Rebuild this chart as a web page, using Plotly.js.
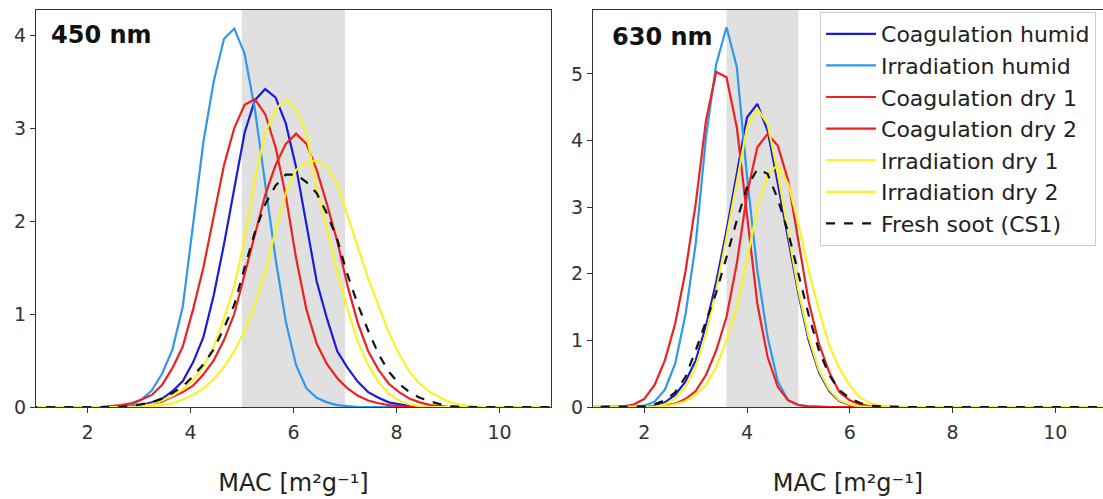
<!DOCTYPE html>
<html>
<head>
<meta charset="utf-8">
<script src="https://cdn.plot.ly/plotly-3.0.1.min.js"></script>
<style>
html,body{margin:0;padding:0;background:#fff;}
#chart{width:1103px;height:499px;}
</style>
</head>
<body>
<div id="chart"></div>
<script>
// ---- data ----
const seriesNames = ["Coagulation humid","Irradiation humid","Coagulation dry 1","Coagulation dry 2","Irradiation dry 1","Irradiation dry 2","Fresh soot (CS1)"];
const panelLabels = ["450 nm","630 nm"];
const axisTitle = "MAC [m\u00b2g\u207b\u00b9]";
const bandLeft = [5, 7];
const bandRight = [3.6, 5];

const x450 = [0.85,1.05,1.25,1.45,1.65,1.85,2.05,2.25,2.45,2.65,
  2.85,3.05,3.25,3.45,3.65,3.85,4.05,4.25,4.45,4.65,
  4.85,5.05,5.25,5.45,5.65,5.85,6.05,6.25,6.45,6.65,
  6.85,7.05,7.25,7.45,7.65,7.85,8.05,8.25,8.45,8.65,
  8.85,9.05,9.25,9.45,9.65,9.85,10.05,10.25,10.45,10.65,
  10.85,11.05];
const coagHumid450 = [0,0,0,0,0,0,0,0,0,0,
  0.01,0.02,0.05,0.09,0.17,0.28,0.48,0.75,1.2,1.75,
  2.35,2.95,3.3,3.42,3.33,3.05,2.58,1.95,1.35,0.95,
  0.6,0.42,0.27,0.16,0.1,0.05,0.03,0.01,0,0,
  0,0,0,0,0,0,0,0,0,0,
  0,0];
const irrHumid450 = [0,0,0,0,0,0,0,0,0,0.01,
  0.02,0.08,0.18,0.36,0.62,1.08,1.95,2.85,3.5,3.96,
  4.07,3.8,3.2,2.4,1.6,0.92,0.45,0.2,0.1,0.05,
  0.02,0.01,0,0,0,0,0,0,0,0,
  0,0,0,0,0,0,0,0,0,0,
  0,0];
const coagDry1_450 = [0,0,0,0,0,0,0,0,0.01,0.02,
  0.04,0.08,0.13,0.24,0.42,0.65,1.05,1.5,2.05,2.6,
  3.0,3.25,3.31,3.15,2.8,2.27,1.6,1.05,0.68,0.46,
  0.31,0.2,0.12,0.07,0.04,0.02,0.01,0,0,0,
  0,0,0,0,0,0,0,0,0,0,
  0,0];
const coagDry2_450 = [0,0,0,0,0,0,0,0,0,0,
  0,0.01,0.03,0.06,0.11,0.16,0.23,0.35,0.5,0.72,
  1.0,1.42,1.85,2.28,2.6,2.83,2.94,2.83,2.55,2.18,
  1.78,1.3,0.9,0.6,0.4,0.25,0.16,0.09,0.05,0.02,
  0.01,0,0,0,0,0,0,0,0,0,
  0,0];
const irrDry1_450 = [0,0,0,0,0,0,0,0,0,0,
  0,0.01,0.03,0.07,0.12,0.19,0.29,0.43,0.65,0.95,
  1.3,1.8,2.45,2.95,3.2,3.31,3.2,2.95,2.35,1.92,
  1.45,1.05,0.7,0.45,0.27,0.14,0.07,0.03,0.01,0,
  0,0,0,0,0,0,0,0,0,0,
  0,0];
const irrDry2_450 = [0,0,0,0,0,0,0,0,0,0,
  0,0,0.01,0.02,0.04,0.08,0.13,0.2,0.3,0.43,
  0.6,0.82,1.1,1.45,1.9,2.3,2.55,2.63,2.65,2.58,
  2.4,2.05,1.72,1.38,1.08,0.8,0.57,0.38,0.25,0.16,
  0.1,0.05,0.02,0.01,0,0,0,0,0,0,
  0,0];
const fresh450 = [0,0,0,0,0,0,0,0,0,0,
  0.01,0.03,0.05,0.09,0.15,0.22,0.33,0.46,0.62,0.85,
  1.1,1.5,1.88,2.18,2.38,2.5,2.5,2.42,2.3,2.08,
  1.8,1.42,1.1,0.82,0.57,0.38,0.25,0.16,0.1,0.06,
  0.03,0.01,0,0,0,0,0,0,0,0,
  0,0];

const x630 = [0.8,1.0,1.2,1.4,1.6,1.8,2.0,2.2,2.4,2.6,
  2.8,3.0,3.2,3.4,3.6,3.8,4.0,4.2,4.4,4.6,
  4.8,5.0,5.2,5.4,5.6,5.8,6.0,6.2,6.4,6.6,
  6.8,7.0,7.2,7.4,7.6,7.8,8.0,8.2,8.4,8.6,
  8.8,9.0,9.2,9.4,9.6,9.8,10.0,10.2,10.4,10.6,
  10.8,11.0];
const coagHumid630 = [0,0,0,0,0,0,0,0.02,0.07,0.18,
  0.38,0.7,1.22,1.88,2.65,3.5,4.35,4.55,4.15,3.35,
  2.5,1.7,1.0,0.52,0.24,0.09,0.03,0.01,0,0,
  0,0,0,0,0,0,0,0,0,0,
  0,0,0,0,0,0,0,0,0,0,
  0,0];
const irrHumid630 = [0,0,0,0,0,0,0.02,0.08,0.26,0.65,
  1.38,2.45,4.05,5.15,5.7,5.11,3.45,2.05,1.05,0.38,
  0.1,0.03,0.01,0,0,0,0,0,0,0,
  0,0,0,0,0,0,0,0,0,0,
  0,0,0,0,0,0,0,0,0,0,
  0,0];
const coagDry1_630 = [0,0,0,0,0.01,0.04,0.12,0.33,0.7,1.25,
  2.03,3.05,4.3,5.03,4.95,4.2,2.85,1.55,0.75,0.3,
  0.1,0.03,0.01,0,0,0,0,0,0,0,
  0,0,0,0,0,0,0,0,0,0,
  0,0,0,0,0,0,0,0,0,0,
  0,0];
const coagDry2_630 = [0,0,0,0,0,0,0,0,0.02,0.05,
  0.12,0.24,0.48,0.85,1.35,2.15,3.2,3.9,4.1,3.92,
  3.4,2.5,1.58,0.95,0.52,0.22,0.1,0.04,0.01,0,
  0,0,0,0,0,0,0,0,0,0,
  0,0,0,0,0,0,0,0,0,0,
  0,0];
const irrDry1_630 = [0,0,0,0,0,0,0,0,0.04,0.13,
  0.3,0.6,1.1,1.75,2.55,3.4,4.2,4.48,4.25,3.5,
  2.6,1.75,1.05,0.55,0.26,0.1,0.04,0.01,0,0,
  0,0,0,0,0,0,0,0,0,0,
  0,0,0,0,0,0,0,0,0,0,
  0,0];
const irrDry2_630 = [0,0,0,0,0,0,0,0,0.01,0.04,
  0.09,0.18,0.33,0.6,1.0,1.5,2.2,3.0,3.5,3.63,
  3.35,2.75,2.05,1.45,0.92,0.58,0.32,0.14,0.06,0.02,
  0.01,0,0,0,0,0,0,0,0,0,
  0,0,0,0,0,0,0,0,0,0,
  0,0];
const fresh630 = [0,0,0,0,0,0,0.01,0.04,0.1,0.22,
  0.45,0.85,1.3,1.72,2.25,2.8,3.3,3.57,3.5,3.12,
  2.62,2.0,1.38,0.85,0.48,0.25,0.13,0.06,0.02,0.01,
  0,0,0,0,0,0,0,0,0,0,
  0,0,0,0,0,0,0,0,0,0,
  0,0];

// ---- styles ----
const colors = ["#1c1cd8","#2f97ee","#ee2020","#ee2020","#f8f228","#f8f228","#111111"];
const dashes = ["solid","solid","solid","solid","solid","solid","dash"];

const y450 = [coagHumid450, irrHumid450, coagDry1_450, coagDry2_450, irrDry1_450, irrDry2_450, fresh450];
const y630 = [coagHumid630, irrHumid630, coagDry1_630, coagDry2_630, irrDry1_630, irrDry2_630, fresh630];

const traces = [];
seriesNames.forEach((n, i) => {
  traces.push({x: x450, y: y450[i], type: "scatter", mode: "lines", name: n,
    legendgroup: "g" + i, showlegend: false, xaxis: "x", yaxis: "y",
    line: {color: colors[i], width: 2.2, dash: dashes[i]}, hoverinfo: "skip"});
});
seriesNames.forEach((n, i) => {
  traces.push({x: x630, y: y630[i], type: "scatter", mode: "lines", name: n,
    legendgroup: "g" + i, showlegend: true, xaxis: "x2", yaxis: "y2",
    line: {color: colors[i], width: 2.2, dash: dashes[i]}, hoverinfo: "skip"});
});

const tickFont = {family: "DejaVu Sans, sans-serif", size: 19, color: "#333"};
const titleFont = {family: "DejaVu Sans, sans-serif", size: 24, color: "#222"};
const axLine = {showline: true, linecolor: "#333", linewidth: 1, ticks: "outside", ticklen: 5,
  tickcolor: "#333", showgrid: false, zeroline: false, tickfont: tickFont};

const layout = {
  width: 1103, height: 499,
  margin: {l: 36, r: 0, t: 10, b: 92},
  paper_bgcolor: "#fff", plot_bgcolor: "#fff",
  font: {family: "DejaVu Sans, sans-serif", color: "#222"},
  xaxis: Object.assign({}, axLine, {domain: [0, 0.4827], range: [1, 11], tickvals: [2,4,6,8,10],
    mirror: true, anchor: "y", ticklabelstandoff: 3, title: {text: axisTitle, font: titleFont, standoff: 32}}),
  yaxis: Object.assign({}, axLine, {domain: [0, 1], range: [0, 4.27], tickvals: [0,1,2,3,4],
    mirror: true, anchor: "x"}),
  xaxis2: Object.assign({}, axLine, {domain: [0.522, 1], range: [1, 10.93], tickvals: [2,4,6,8,10],
    mirror: true, anchor: "y2", ticklabelstandoff: 3, title: {text: axisTitle, font: titleFont, standoff: 32}}),
  yaxis2: Object.assign({}, axLine, {domain: [0, 1], range: [0, 5.96], tickvals: [0,1,2,3,4,5],
    mirror: false, anchor: "x2"}),
  shapes: [
    {type: "rect", xref: "x", yref: "y domain", x0: bandLeft[0], x1: bandLeft[1], y0: 0, y1: 1,
      fillcolor: "#e0e0e0", line: {width: 0}, layer: "below"},
    {type: "rect", xref: "x2", yref: "y2 domain", x0: bandRight[0], x1: bandRight[1], y0: 0, y1: 1,
      fillcolor: "#e0e0e0", line: {width: 0}, layer: "below"}
  ],
  annotations: [
    {text: "<b>" + panelLabels[0] + "</b>", xref: "x domain", yref: "y domain", x: 0.025, y: 0.937,
      xanchor: "left", yanchor: "middle", showarrow: false,
      font: {family: "DejaVu Sans, sans-serif", size: 24, color: "#111"}},
    {text: "<b>" + panelLabels[1] + "</b>", xref: "x2 domain", yref: "y2 domain", x: 0.033, y: 0.932,
      xanchor: "left", yanchor: "middle", showarrow: false,
      font: {family: "DejaVu Sans, sans-serif", size: 24, color: "#111"}}
  ],
  legend: {x: 0.7348, y: 0.995, xanchor: "left", yanchor: "top",
    bgcolor: "rgba(255,255,255,0.85)", bordercolor: "#cccccc", borderwidth: 1,
    font: {family: "DejaVu Sans, sans-serif", size: 22, color: "#222"},
    tracegroupgap: 0, itemwidth: 50},
  showlegend: true
};

Plotly.newPlot("chart", traces, layout, {staticPlot: true, displayModeBar: false});
</script>
</body>
</html>
